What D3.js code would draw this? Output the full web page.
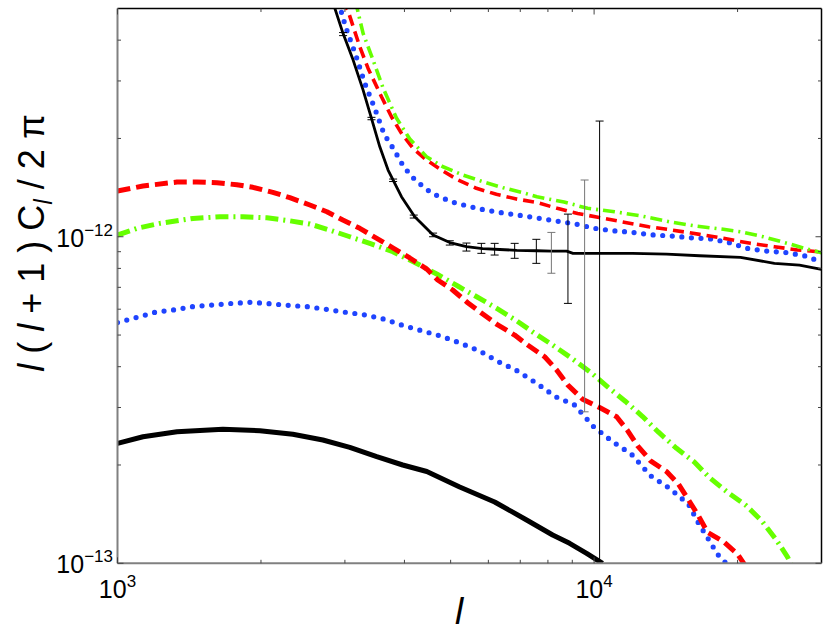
<!DOCTYPE html>
<html><head><meta charset="utf-8">
<script src="https://cdn.jsdelivr.net/npm/d3@7/dist/d3.min.js"></script>
<style>body{margin:0;background:#fff}text{font-family:"Liberation Sans",Arial,sans-serif;white-space:pre}</style>
</head><body><svg id="c" width="830" height="634"></svg>
<script>
// ---------- tick labels / ticks ----------
const xMajorTicks = [1e3, 1e4];
const xMajorLabels = ["3", "4"];
const xMinorTicks = [2e3,3e3,4e3,5e3,6e3,7e3,8e3,9e3,2e4];
const yMajorTicks = [1e-13, 1e-12];
const yMajorLabels = ["\u221213", "\u221212"];
const yMinorTicks = [2e-13,3e-13,4e-13,5e-13,6e-13,7e-13,8e-13,9e-13,2e-12,3e-12,4e-12];

// ---------- lower group (hump) ----------
const lowRedL = [1000,1131,1333,1468,1617,1780,1923,2118,2299,2533,2750,2970,3224,3499,3781,4105,4456,4697,5050,5430,5811,6278,6813,7254,7875,8344,8800,9460,10268,11150,11755,12340,13135,14190,15040,15785,16565,17300,18690,19990,20780];
const lowRedV = [13.80e-13,14.30e-13,14.71e-13,14.71e-13,14.63e-13,14.43e-13,14.17e-13,13.68e-13,13.17e-13,12.51e-13,11.93e-13,11.25e-13,10.61e-13,9.89e-13,9.25e-13,8.61e-13,7.96e-13,7.37e-13,6.87e-13,6.28e-13,5.83e-13,5.37e-13,5.00e-13,4.66e-13,4.29e-13,3.91e-13,3.52e-13,3.18e-13,3.00e-13,2.81e-13,2.55e-13,2.29e-13,2.06e-13,1.91e-13,1.745e-13,1.563e-13,1.396e-13,1.244e-13,1.164e-13,1.068e-13,0.981e-13];

const lowGreenL = [1000,1099,1228,1440,1640,1833,2058,2299,2533,2790,3072,3383,3781,4105,4307,4675,5174,5671,6248,6880,7504,8185,8971,9881,10674,11641,12640,13652,14894,16247,17466,19054,20880,22550,24130,25448,25946];
const lowGreenV = [10.12e-13,10.61e-13,10.99e-13,11.38e-13,11.51e-13,11.51e-13,11.43e-13,11.19e-13,10.94e-13,10.48e-13,10.00e-13,9.545e-13,9.00e-13,8.485e-13,8.19e-13,7.69e-13,7.065e-13,6.55e-13,6.035e-13,5.53e-13,5.06e-13,4.66e-13,4.245e-13,3.82e-13,3.47e-13,3.13e-13,2.815e-13,2.52e-13,2.25e-13,2.04e-13,1.83e-13,1.65e-13,1.50e-13,1.341e-13,1.178e-13,1.047e-13,0.988e-13];

const lowBlueL = [1000,1099,1204,1320,1447,1586,1738,1905,2088,2288,2508,2750,3013,3319,3637,3986,4370,4789,5249,5754,6307,6913,7577,8304,9103,9977,10935,11985,13135,14397,15785,16565,17300,18153,19054];
const lowBlueV = [5.46e-13,5.665e-13,5.88e-13,5.975e-13,6.12e-13,6.18e-13,6.25e-13,6.30e-13,6.235e-13,6.165e-13,6.105e-13,5.99e-13,5.87e-13,5.76e-13,5.585e-13,5.34e-13,5.145e-13,4.955e-13,4.72e-13,4.467e-13,4.14e-13,3.88e-13,3.557e-13,3.236e-13,3.052e-13,2.62e-13,2.357e-13,2.157e-13,1.854e-13,1.697e-13,1.516e-13,1.326e-13,1.198e-13,1.066e-13,0.99e-13];

const lowBlackL = [1000,1131,1333,1664,1990,2333,2697,3072,3499,3967,4456,5224,6185,7218,8185,8884,9645,10418];
const lowBlackV = [2.330e-13,2.441e-13,2.529e-13,2.572e-13,2.547e-13,2.483e-13,2.385e-13,2.266e-13,2.121e-13,2.000e-13,1.91e-13,1.713e-13,1.541e-13,1.357e-13,1.221e-13,1.151e-13,1.073e-13,0.999e-13];

// ---------- upper group (steep + plateau) ----------
const upBlackL = [2830,2974,3122,3276,3411,3551,3696,3943,4204,4594,4980,5397,5838,6338,6880,7577,8146,8759,9030,10268,12042,14190,16643,20282,23898,26970,29990];
const upBlackV = [52.3e-13,41.9e-13,34.75e-13,28.13e-13,23.04e-13,18.86e-13,16.01e-13,13.26e-13,11.51e-13,10.12e-13,9.60e-13,9.33e-13,9.20e-13,9.14e-13,9.085e-13,9.06e-13,9.04e-13,9.04e-13,8.896e-13,8.896e-13,8.896e-13,8.85e-13,8.745e-13,8.65e-13,8.29e-13,8.19e-13,7.95e-13];

const upBlueL = [2913,3013,3162,3303,3466,3625,3800,3986,4170,4363,4571,4796,5018,5249,5508,5754,6316,6913,7613,8344,9146,10023,10988,12042,13199,14537,15937,17466,19143,20980,22990,25200,27627,29990];
const upBlueV = [51.95e-13,43.77e-13,36.0e-13,29.49e-13,24.73e-13,20.63e-13,18.52e-13,16.38e-13,15.16e-13,14.30e-13,13.58e-13,13.17e-13,12.80e-13,12.57e-13,12.36e-13,12.16e-13,11.88e-13,11.65e-13,11.41e-13,11.17e-13,10.94e-13,10.61e-13,10.43e-13,10.31e-13,10.14e-13,10.05e-13,9.93e-13,9.86e-13,9.61e-13,9.21e-13,9.04e-13,8.95e-13,8.745e-13,8.37e-13];

const upRedL = [2955,3042,3224,3356,3580,3757,3943,4170,4450,4783,5182,5662,6237,6871,7587,8367,9235,10185,11420,13011,14607,16643,18690,21290,23898,26710,29990];
const upRedV = [53.05e-13,49.44e-13,38.16e-13,32.77e-13,26.83e-13,23.31e-13,20.73e-13,18.65e-13,17.17e-13,16.01e-13,14.92e-13,14.07e-13,13.49e-13,13.05e-13,12.73e-13,12.22e-13,11.79e-13,11.47e-13,11.12e-13,10.73e-13,10.48e-13,10.17e-13,9.89e-13,9.545e-13,9.32e-13,9.11e-13,8.98e-13];

const upGreenL = [3154,3200,3276,3438,3608,3848,4105,4450,4819,5309,5847,6440,7091,7587,8648,9691,11041,12581,14365,16368,18664,20282,22660,25448,28097,29990];
const upGreenV = [53.05e-13,48.41e-13,41.95e-13,34.75e-13,28.53e-13,23.09e-13,19.91e-13,17.58e-13,16.38e-13,15.45e-13,14.74e-13,14.13e-13,13.64e-13,13.26e-13,12.77e-13,12.22e-13,11.93e-13,11.57e-13,11.12e-13,10.78e-13,10.54e-13,10.36e-13,10.0e-13,9.545e-13,9.15e-13,8.93e-13];

// ---------- error bars on the upper black curve ----------
const errL  = [2974,3411,3787,4184,4594,4980,5397,5800,6185,6813,7565,8135,8813,9552,10269];
const errLo = [41.3e-13,22.82e-13,14.76e-13,11.41e-13,10.0e-13,9.43e-13,9.04e-13,8.896e-13,8.79e-13,8.59e-13,8.29e-13,7.73e-13,6.25e-13,2.91e-13,0.5e-13];
const errHi = [42.2e-13,23.21e-13,15.02e-13,11.65e-13,10.26e-13,9.72e-13,9.565e-13,9.545e-13,9.545e-13,9.545e-13,9.82e-13,10.31e-13,11.73e-13,14.92e-13,22.61e-13];
const errShade = ["#000","#000","#000","#000","#000","#000","#000","#000","#000","#000","#000","#777","#000","#777","#000"];

// ---------- drawing ----------
const svg = d3.select("#c");
const L = 117.5, R = 821.5, T = 8.5, B = 563.3;
const x = d3.scaleLog().domain([1000, 30000]).range([L, R]);
const y = d3.scaleLog().domain([1e-13, 5e-12]).range([B, T]);

svg.append("defs").append("clipPath").attr("id","clip")
  .append("rect").attr("x",L).attr("y",T).attr("width",R-L).attr("height",B-T);

const plot = svg.append("g").attr("clip-path","url(#clip)");
const line = d3.line().x(d=>x(d[0])).y(d=>y(d[1]));
const zip = (a,b)=>a.map((v,i)=>[v,b[i]]);

function draw(Ls, Vs, color, width, dash, cap){
  plot.append("path").datum(zip(Ls,Vs)).attr("d", line)
    .attr("fill","none").attr("stroke",color).attr("stroke-width",width)
    .attr("stroke-dasharray",dash||null).attr("stroke-linecap",cap||"butt")
    .attr("stroke-linejoin","round");
}
const RED="#ff0000", GREEN="#66ff00", BLUE="#1f44ff";

// lower group
draw(lowBlackL, lowBlackV, "#000", 5);
draw(lowBlueL, lowBlueV, BLUE, 5.2, "0 9.6", "round");
draw(lowGreenL, lowGreenV, GREEN, 5, "13 5 2 5");
draw(lowRedL, lowRedV, RED, 5, "13 6");
// upper group
draw(upBlueL, upBlueV, BLUE, 5.2, "0 9.6", "round");
draw(upRedL, upRedV, RED, 3.6, "11 6");
draw(upGreenL, upGreenV, GREEN, 3.6, "12 5 2 5");
draw(upBlackL, upBlackV, "#000", 2.8);

// error bars
const eb = plot.append("g").attr("stroke-width",1).attr("fill","none");
errL.forEach((l,i)=>{
  const xx = x(l), y1 = y(errHi[i]), y2 = y(errLo[i]);
  const g = eb.append("g").attr("stroke", errShade[i]);
  g.append("line").attr("x1",xx).attr("x2",xx).attr("y1",y1).attr("y2",y2);
  g.append("line").attr("x1",xx-4).attr("x2",xx+4).attr("y1",y1).attr("y2",y1);
  g.append("line").attr("x1",xx-4).attr("x2",xx+4).attr("y1",y2).attr("y2",y2);
});

// frame
const fr = svg.append("g").attr("fill","none");
fr.append("line").attr("x1",L).attr("x2",R).attr("y1",T).attr("y2",T).attr("stroke","#000").attr("stroke-width",1.5);
fr.append("line").attr("x1",R).attr("x2",R).attr("y1",T).attr("y2",B).attr("stroke","#000").attr("stroke-width",1.5);
fr.append("line").attr("x1",L).attr("x2",L).attr("y1",T).attr("y2",B).attr("stroke","#808080").attr("stroke-width",2);
fr.append("line").attr("x1",L).attr("x2",R).attr("y1",B).attr("y2",B).attr("stroke","#808080").attr("stroke-width",2);

// inner ticks on all sides
const tk = svg.append("g").attr("stroke","#444").attr("stroke-width",1);
function xt(v, len){
  tk.append("line").attr("x1",x(v)).attr("x2",x(v)).attr("y1",B).attr("y2",B-len);
  tk.append("line").attr("x1",x(v)).attr("x2",x(v)).attr("y1",T).attr("y2",T+len);
}
function yt(v, len){
  tk.append("line").attr("y1",y(v)).attr("y2",y(v)).attr("x1",L).attr("x2",L+len);
  tk.append("line").attr("y1",y(v)).attr("y2",y(v)).attr("x1",R).attr("x2",R-len);
}
xMinorTicks.forEach(v=>xt(v,3.5)); xMajorTicks.forEach(v=>xt(v,6));
yMinorTicks.forEach(v=>yt(v,3.5)); yMajorTicks.forEach(v=>yt(v,6));

// tick labels
xMajorTicks.forEach((v,i)=>{
  const t = svg.append("text").attr("x",x(v)).attr("y",598).attr("text-anchor","middle").attr("font-size",25);
  t.append("tspan").text("10");
  t.append("tspan").attr("font-size",17).attr("dy",-11).text(xMajorLabels[i]);
});
yMajorTicks.forEach((v,i)=>{
  const t = svg.append("text").attr("x",113).attr("y",y(v)+10).attr("text-anchor","end").attr("font-size",25);
  t.append("tspan").text("10");
  t.append("tspan").attr("font-size",17).attr("dy",-11).text(yMajorLabels[i]);
});

// axis titles
svg.append("text").attr("x",459).attr("y",624).attr("text-anchor","middle")
  .attr("font-size",37).attr("font-style","italic").text("l");

const yt2 = svg.append("text").attr("transform","translate(44,243) rotate(-90)")
  .attr("text-anchor","middle").attr("font-size",36);
yt2.append("tspan").attr("font-style","italic").text("l");
yt2.append("tspan").text(" ( ");
yt2.append("tspan").attr("font-style","italic").text("l");
yt2.append("tspan").text(" + 1 ) C");
yt2.append("tspan").attr("font-style","italic").attr("font-size",25).attr("dy",8).text("l");
yt2.append("tspan").attr("dy",-8).text(" / 2 \u03c0");
</script></body></html>
